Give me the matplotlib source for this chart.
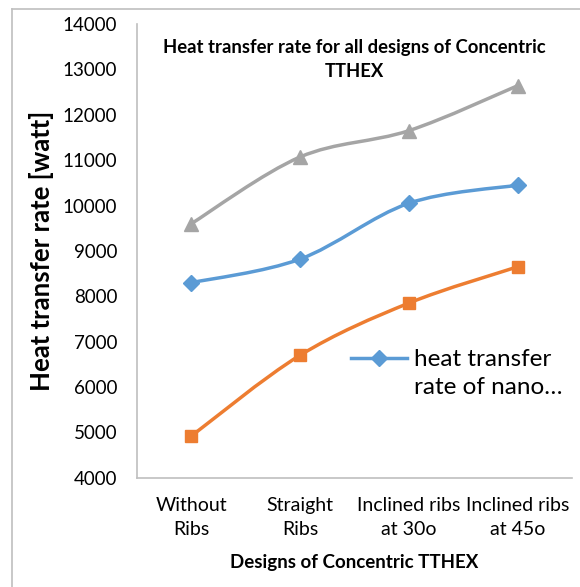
import matplotlib
matplotlib.use('Agg')
import matplotlib.pyplot as plt
from matplotlib.path import Path
from matplotlib.patches import PathPatch
from matplotlib.lines import Line2D

plt.rcParams['font.family'] = ['Lato', 'DejaVu Sans']

# data
designs = ['Without\nRibs', 'Straight\nRibs', 'Inclined ribs\nat 30o', 'Inclined ribs\nat 45o']
nano = [8300, 8820, 10050, 10450]
base = [4920, 6700, 7850, 8650]
upper = [9600, 11070, 11650, 12640]
nano_label = ['heat transfer', 'rate of nano…']

blue = '#5B9BD5'
orange = '#ED7D31'
gray = '#A5A5A5'


def smooth_path(xs, ys):
    # catmull-rom style bezier segments, like the smoothed lines in a spreadsheet chart
    pts = list(zip(xs, ys))
    verts = [pts[0]]
    codes = [Path.MOVETO]
    n = len(pts)
    for i in range(n - 1):
        p0 = pts[i - 1] if i > 0 else pts[i]
        p1 = pts[i]
        p2 = pts[i + 1]
        p3 = pts[i + 2] if i + 2 < n else pts[i + 1]
        c1 = (p1[0] + (p2[0] - p0[0]) / 6, p1[1] + (p2[1] - p0[1]) / 6)
        c2 = (p2[0] - (p3[0] - p1[0]) / 6, p2[1] - (p3[1] - p1[1]) / 6)
        verts += [c1, c2, p2]
        codes += [Path.CURVE4] * 3
    return Path(verts, codes)


fig = plt.figure(figsize=(5.8, 5.87), dpi=100)
ax = fig.add_axes([0.236, 0.186, 0.750, 0.773])

x = list(range(len(designs)))
series = [(nano, blue, 'D', 8.5), (base, orange, 's', 9), (upper, gray, '^', 10)]
for vals, col, mk, ms in series:
    ax.add_patch(PathPatch(smooth_path(x, vals), facecolor='none', edgecolor=col,
                           lw=2.5, capstyle='round', zorder=2))
    ax.plot(x, vals, linestyle='none', marker=mk, markersize=ms, color=col, zorder=3)

ax.set_xlim(-0.5, 3.5)
ax.set_ylim(4000, 14000)
ax.set_yticks(range(4000, 14001, 1000))
ax.set_xticks(x)
ax.set_xticklabels(designs, linespacing=1.45)
ax.tick_params(axis='both', length=0, colors='#000000')
ax.tick_params(axis='y', pad=14, labelsize=13.5)
ax.tick_params(axis='x', pad=14, labelsize=14)
for s in ['top', 'right']:
    ax.spines[s].set_visible(False)
for s in ['left', 'bottom']:
    ax.spines[s].set_color('#BFBFBF')
    ax.spines[s].set_linewidth(1.2)

ax.text(0.5, 0.968, 'Heat transfer rate for all designs of Concentric\nTTHEX',
        transform=ax.transAxes, ha='center', va='top', fontsize=13.3,
        fontweight='bold', linespacing=1.5)
ax.set_ylabel('Heat transfer rate [watt]', fontsize=18.5, fontweight='bold', labelpad=6)
ax.set_xlabel('Designs of Concentric TTHEX', fontsize=13.5, fontweight='bold', labelpad=12)

# legend shows only the first series; the handle sits beside the first text line
handles = [Line2D([], [], color=blue, lw=2.5, marker='D', markersize=8.5),
           Line2D([], [], color='none')]
ax.legend(handles, nano_label, loc='upper left', bbox_to_anchor=(0.47, 0.305),
          frameon=False, fontsize=17.5, handlelength=2.3, handletextpad=0.3,
          borderaxespad=0, labelspacing=0.3)

# chart area border (left and top edges)
fig.add_artist(Line2D([12 / 580, 12 / 580], [0, 1 - 9 / 587], color='#BFBFBF', lw=1.2))
fig.add_artist(Line2D([12 / 580, 1], [1 - 9 / 587, 1 - 9 / 587], color='#BFBFBF', lw=1.2))

fig.savefig('out.png', dpi=100)
